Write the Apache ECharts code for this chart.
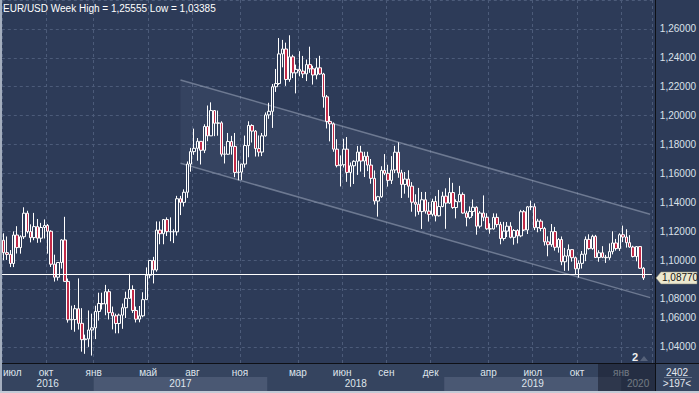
<!DOCTYPE html>
<html><head><meta charset="utf-8">
<script src="https://cdn.jsdelivr.net/npm/echarts/dist/echarts.min.js"></script>
<style>html,body{margin:0;padding:0;background:#2d3b58;overflow:hidden}#c{width:699px;height:393px}</style>
</head><body><div id="c"></div>
<script>
// ---------- data (weekly EUR/USD, first week 2016-07-04) ----------
const firstWeek = '2016-07-04';
const open = [1.1138,1.1052,1.1040,1.0977,1.1174,1.1087,1.1162,1.1325,1.1198,1.1156,
1.1232,1.1152,1.1226,1.1240,1.1200,1.0972,1.0882,1.0984,1.1140,1.0853,
1.0587,1.0589,1.0664,1.0563,1.0450,1.0455,1.0517,1.0532,1.0645,1.0700,
1.0697,1.0782,1.0637,1.0615,1.0562,1.0620,1.0671,1.0736,1.0797,1.0652,
1.0592,1.0615,1.0727,1.0896,1.0998,1.0932,1.1208,1.1183,1.1281,1.1197,
1.1197,1.1196,1.1425,1.1400,1.1470,1.1665,1.1751,1.1774,1.1822,1.1760,
1.1925,1.1860,1.2035,1.1947,1.1950,1.1733,1.1733,1.1821,1.1787,1.1607,
1.1609,1.1665,1.1793,1.1932,1.1893,1.1772,1.1748,1.1860,1.2005,1.2030,
1.2200,1.2222,1.2427,1.2461,1.2250,1.2407,1.2296,1.2320,1.2308,1.2289,
1.2353,1.2324,1.2281,1.2331,1.2288,1.2130,1.1960,1.1943,1.1768,1.1654,
1.1660,1.1768,1.1607,1.1653,1.1684,1.1748,1.1686,1.1719,1.1658,1.1566,
1.1409,1.1439,1.1621,1.1601,1.1552,1.1624,1.1747,1.1604,1.1524,1.1561,
1.1512,1.1401,1.1387,1.1336,1.1418,1.1339,1.1317,1.1406,1.1307,1.1371,
1.1443,1.1395,1.1468,1.1364,1.1405,1.1455,1.1326,1.1296,1.1337,1.1366,
1.1235,1.1326,1.1297,1.1217,1.1216,1.1296,1.1246,1.1150,1.1201,1.1235,
1.1158,1.1205,1.1168,1.1335,1.1209,1.1369,1.1370,1.1225,1.1270,1.1219,
1.1127,1.1107,1.1198,1.1089,1.1143,1.0989,1.1029,1.1073,1.1017,1.0940,
1.0978,1.1041,1.1144,1.1080,1.1165,1.1018,1.1051,1.1020,1.1017,1.1059,
1.1119,1.1080,1.1176,1.1160,1.1121,1.1091,1.1025,1.1094,1.0944];
const high = [1.1186,1.1164,1.1070,1.1199,1.1235,1.1172,1.1366,1.1342,1.1248,1.1327,
1.1285,1.1258,1.1282,1.1250,1.1207,1.1038,1.0985,1.1145,1.1300,1.0873,
1.0685,1.0690,1.0874,1.0668,1.0485,1.0652,1.0630,1.0685,1.0775,1.0775,
1.0829,1.0800,1.0679,1.0630,1.0630,1.0700,1.0782,1.0906,1.0826,1.0679,
1.0683,1.0778,1.0950,1.1000,1.1023,1.1268,1.1268,1.1285,1.1296,1.1296,
1.1213,1.1445,1.1445,1.1490,1.1683,1.1777,1.1910,1.1845,1.1822,1.1940,
1.2070,1.2092,1.2035,1.2035,1.1961,1.1788,1.1880,1.1860,1.1880,1.1689,
1.1666,1.1862,1.1961,1.1940,1.1900,1.1863,1.1880,1.2022,1.2089,1.2219,
1.2323,1.2537,1.2524,1.2505,1.2556,1.2421,1.2353,1.2446,1.2413,1.2388,
1.2477,1.2345,1.2397,1.2414,1.2296,1.2143,1.1997,1.1953,1.1837,1.1725,
1.1840,1.1852,1.1676,1.1691,1.1790,1.1791,1.1750,1.1750,1.1700,1.1621,
1.1445,1.1650,1.1734,1.1660,1.1720,1.1791,1.1815,1.1625,1.1610,1.1622,
1.1540,1.1456,1.1500,1.1472,1.1472,1.1402,1.1425,1.1443,1.1486,1.1473,
1.1497,1.1570,1.1535,1.1421,1.1514,1.1469,1.1342,1.1372,1.1420,1.1373,
1.1339,1.1448,1.1325,1.1255,1.1324,1.1323,1.1265,1.1265,1.1264,1.1263,
1.1215,1.1214,1.1348,1.1347,1.1375,1.1412,1.1393,1.1286,1.1283,1.1230,
1.1165,1.1250,1.1230,1.1153,1.1164,1.1085,1.1109,1.1075,1.1025,1.0998,
1.1063,1.1164,1.1179,1.1176,1.1175,1.1069,1.1097,1.1037,1.1116,1.1200,
1.1147,1.1186,1.1239,1.1214,1.1173,1.1100,1.1096,1.1095,1.0952];
const low = [1.1000,1.1002,1.0952,1.0952,1.1046,1.1045,1.1147,1.1185,1.1123,1.1138,
1.1120,1.1123,1.1150,1.1045,1.0953,1.0852,1.0859,1.0942,1.0850,1.0568,
1.0518,1.0505,1.0520,1.0367,1.0352,1.0400,1.0340,1.0454,1.0582,1.0659,
1.0619,1.0590,1.0521,1.0494,1.0494,1.0525,1.0600,1.0733,1.0635,1.0569,
1.0570,1.0605,1.0727,1.0875,1.0839,1.0920,1.1110,1.1110,1.1167,1.1131,
1.1118,1.1170,1.1312,1.1371,1.1431,1.1612,1.1729,1.1688,1.1662,1.1741,
1.1823,1.1859,1.1858,1.1861,1.1717,1.1669,1.1730,1.1730,1.1574,1.1553,
1.1555,1.1640,1.1712,1.1814,1.1717,1.1717,1.1720,1.1855,1.1978,1.1915,
1.2164,1.2213,1.2334,1.2206,1.2234,1.2260,1.2154,1.2272,1.2260,1.2239,
1.2296,1.2215,1.2251,1.2283,1.2055,1.1911,1.1822,1.1750,1.1642,1.1510,
1.1641,1.1542,1.1508,1.1527,1.1590,1.1613,1.1575,1.1616,1.1529,1.1385,
1.1301,1.1431,1.1588,1.1509,1.1527,1.1603,1.1570,1.1430,1.1460,1.1432,
1.1335,1.1302,1.1314,1.1216,1.1322,1.1267,1.1303,1.1268,1.1302,1.1366,
1.1217,1.1390,1.1355,1.1289,1.1402,1.1322,1.1234,1.1284,1.1306,1.1176,
1.1220,1.1270,1.1210,1.1183,1.1212,1.1227,1.1110,1.1135,1.1160,1.1151,
1.1107,1.1116,1.1159,1.1201,1.1181,1.1346,1.1208,1.1193,1.1200,1.1101,
1.1027,1.1092,1.1066,1.1052,1.0965,1.0926,1.0927,1.0990,1.0904,1.0879,
1.0942,1.0993,1.1073,1.1072,1.1015,1.0989,1.1014,1.0981,1.1002,1.1040,
1.1066,1.1064,1.1125,1.1087,1.1086,1.1019,1.0992,1.0940,1.0863];
const close = [1.1052,1.1040,1.0977,1.1174,1.1087,1.1162,1.1325,1.1198,1.1156,1.1232,
1.1152,1.1226,1.1240,1.1200,1.0972,1.0882,1.0984,1.1140,1.0853,1.0587,
1.0589,1.0664,1.0563,1.0450,1.0455,1.0517,1.0532,1.0645,1.0700,1.0697,
1.0782,1.0637,1.0615,1.0562,1.0620,1.0671,1.0736,1.0797,1.0652,1.0592,
1.0615,1.0727,1.0896,1.0998,1.0932,1.1208,1.1183,1.1281,1.1197,1.1197,
1.1196,1.1425,1.1400,1.1470,1.1665,1.1751,1.1774,1.1822,1.1760,1.1925,
1.1860,1.2035,1.1947,1.1950,1.1733,1.1733,1.1821,1.1787,1.1607,1.1609,
1.1665,1.1793,1.1932,1.1893,1.1772,1.1748,1.1860,1.2005,1.2030,1.2200,
1.2222,1.2427,1.2461,1.2250,1.2407,1.2296,1.2320,1.2308,1.2289,1.2353,
1.2324,1.2281,1.2331,1.2288,1.2130,1.1960,1.1943,1.1768,1.1654,1.1660,
1.1768,1.1607,1.1653,1.1684,1.1748,1.1686,1.1719,1.1658,1.1566,1.1409,
1.1439,1.1621,1.1601,1.1552,1.1624,1.1747,1.1604,1.1524,1.1561,1.1512,
1.1401,1.1387,1.1336,1.1418,1.1339,1.1317,1.1406,1.1307,1.1371,1.1443,
1.1395,1.1468,1.1364,1.1405,1.1455,1.1326,1.1296,1.1337,1.1366,1.1235,
1.1326,1.1297,1.1217,1.1216,1.1296,1.1246,1.1150,1.1201,1.1235,1.1158,
1.1205,1.1168,1.1335,1.1209,1.1369,1.1370,1.1225,1.1270,1.1219,1.1127,
1.1107,1.1198,1.1089,1.1143,1.0989,1.1029,1.1073,1.1017,1.0940,1.0978,
1.1041,1.1144,1.1080,1.1165,1.1018,1.1051,1.1020,1.1017,1.1059,1.1119,
1.1080,1.1176,1.1160,1.1121,1.1091,1.1025,1.1094,1.0944,1.0877];
const emptySlots = 2;
const lastPrice = 1.0877;
const titleText = 'EUR/USD Week High = 1,25555 Low = 1,03385';
const monthTickDates = ['2016-07-04','2016-10-03','2017-01-09','2017-05-01','2017-07-31','2017-11-06','2018-03-05','2018-06-04','2018-09-03','2018-12-03','2019-04-01','2019-07-01','2019-09-30','2019-12-30'];
const monthNames = ['июл','окт','янв','май','авг','ноя','мар','июн','сен','дек','апр','июл','окт','янв'];
const yearStartDates = ['2017-01-09','2018-01-01','2018-12-31','2019-12-30'];
const yearNames = ['2016','2017','2018','2019','2020'];
const channelX = [52, 190];
const channelUpper = [1.2247, 1.1318];
const channelLower = [1.1670, 1.0741];
const footerTop = '2402', footerBottom = '>197<', markerText = '2';

// ---------- build ----------
function fmtDate(d){return d.toISOString().slice(0,10);}
const weeks = [];
{ const d0 = new Date(firstWeek+'T00:00:00Z');
  for (let i=0;i<close.length+emptySlots;i++){ weeks.push(fmtDate(new Date(d0.getTime()+i*7*864e5))); } }
const ohlc = close.map((c,i)=>[open[i], c, low[i], high[i]]);
const tickIdx = new Set(monthTickDates.map(d=>weeks.indexOf(d)));
const FONT = 'Liberation Sans, Arial, sans-serif';
const BG = '#2d3b58';
const fmt = v => v.toFixed(5).replace('.', ',');

const chart = echarts.init(document.getElementById('c'), null, {renderer:'svg', width:699, height:393});
chart.setOption({
  backgroundColor:BG,
  animation:false,
  grid:{left:1.8, top:-11.8, width:653.2, height:387.6, containLabel:false},
  xAxis:{type:'category', data:weeks, boundaryGap:true,
    axisLine:{show:false}, axisTick:{show:false}, axisLabel:{show:false},
    splitLine:{show:true, interval:(i)=>tickIdx.has(i), lineStyle:{color:'#4c5b79', type:[3,3], width:1}}},
  yAxis:{type:'value', position:'right', min:1.02, max:1.28, interval:0.02, scale:true,
    axisLine:{show:false}, axisTick:{show:false},
    splitLine:{show:true, lineStyle:{color:'#4c5b79', type:[3,3], width:1}},
    axisLabel:{show:true, margin:8, color:'#dbe1ea', fontSize:10, fontFamily:FONT,
      formatter:(v)=>{ if (v<1.03||v>1.27) return ''; if (Math.abs(v-1.08)<1e-6) return '{m|'+fmt(v)+'}'; return fmt(v); },
      rich:{m:{padding:[18,0,0,0], color:'#dbe1ea', fontSize:10, fontFamily:FONT}}}},
  series:[
    {type:'custom', z:1, silent:true, data:[[channelX[0], channelX[1], channelUpper[0], channelUpper[1], channelLower[0], channelLower[1]]],
      renderItem:(params, api)=>{
        const a = api.coord([api.value(0), api.value(2)]);
        const b = api.coord([api.value(1), api.value(3)]);
        const c = api.coord([api.value(1), api.value(5)]);
        const d = api.coord([api.value(0), api.value(4)]);
        return {type:'group', children:[
          {type:'polygon', shape:{points:[a,b,c,d]}, style:{fill:'rgba(150,165,195,0.08)'}},
          {type:'line', shape:{x1:a[0],y1:a[1],x2:b[0],y2:b[1]}, style:{stroke:'rgba(170,180,200,0.5)', lineWidth:1.5}},
          {type:'line', shape:{x1:d[0],y1:d[1],x2:c[0],y2:c[1]}, style:{stroke:'rgba(170,180,200,0.5)', lineWidth:1.5}}
        ]};
      }},
    {type:'candlestick', z:3, data:ohlc, barWidth:3,
      itemStyle:{color:BG, color0:'#c22a48', borderColor:'#ffffff', borderColor0:'#ffffff', borderWidth:1},
      markLine:{silent:true, symbol:'none', label:{show:false}, lineStyle:{color:'#ffffff', type:'solid', width:1.2},
        data:[{yAxis:lastPrice}]}}
  ]
});

// ---------- decorations positioned through the axes ----------
const cx = i => chart.convertToPixel({xAxisIndex:0}, i);
const slotW = cx(1)-cx(0);
const edge = d => cx(weeks.indexOf(d)) - slotW/2;
const plotL = cx(0)-slotW/2, plotR = 655;
const yLast = chart.convertToPixel({yAxisIndex:0}, lastPrice);
const g = [];
g.push({type:'rect', shape:{x:0,y:363,width:699,height:28}, style:{fill:'#35445f'}, z:50});
const bounds = [plotL].concat(yearStartDates.map(edge)).concat([plotR]);
for (let k=0;k<yearNames.length;k++){
  if (k%2===1) g.push({type:'rect', shape:{x:bounds[k],y:377,width:bounds[k+1]-bounds[k],height:14}, style:{fill:'#4a5873'}, z:51});
  g.push({type:'text', x:(bounds[k]+bounds[k+1])/2, y:383.5, style:{text:yearNames[k], fill:'#dfe4ec', font:'10px '+FONT, align:'center', verticalAlign:'middle'}, z:52});
}
monthTickDates.forEach((d,k)=>{
  const x = edge(d);
  const first = x < 10;
  g.push({type:'text', x: first ? 3 : x, y:372, style:{text:monthNames[k], fill:'#dfe4ec', font:'10px '+FONT, align: first ? 'left' : 'center', verticalAlign:'middle'}, z:52});
});
g.push({type:'rect', shape:{x:598,y:363,width:57,height:28}, style:{fill:'rgba(24,30,44,0.55)'}, z:53});
g.push({type:'line', shape:{x1:0,y1:363.5,x2:699,y2:363.5}, style:{stroke:'#0e1016', lineWidth:1}, z:54});
g.push({type:'line', shape:{x1:655.5,y1:0,x2:655.5,y2:391}, style:{stroke:'#0e1016', lineWidth:1}, z:54});
g.push({type:'line', shape:{x1:664,y1:377.5,x2:692,y2:377.5}, style:{stroke:'#66748c', lineWidth:1}, z:54});
g.push({type:'text', x:677, y:372, style:{text:footerTop, fill:'#e4e8ef', font:'10px '+FONT, align:'center', verticalAlign:'middle'}, z:55});
g.push({type:'text', x:677, y:383.5, style:{text:footerBottom, fill:'#e4e8ef', font:'10px '+FONT, align:'center', verticalAlign:'middle'}, z:55});
g.push({type:'rect', shape:{x:0,y:0,width:2,height:393}, style:{fill:'#a4aebe'}, z:100});
g.push({type:'rect', shape:{x:0,y:391,width:699,height:2}, style:{fill:'#c3cad6'}, z:100});
g.push({type:'text', x:3, y:8, style:{text:titleText, fill:'#ffffff', font:'10px '+FONT, verticalAlign:'middle'}, z:60});
g.push({type:'text', x:635, y:357, style:{text:markerText, fill:'#f0f0f0', font:'bold 11px '+FONT, align:'center', verticalAlign:'middle'}, z:60});
g.push({type:'polygon', shape:{points:[[640,361],[644,356],[648,361]]}, style:{fill:'#56627a'}, z:60});
g.push({type:'polygon', shape:{points:[[656,yLast],[661,yLast-6],[697,yLast-6],[697,yLast+6],[661,yLast+6]]}, style:{fill:'#ece8cf', stroke:'#8d8a78', lineWidth:0.5}, z:60});
g.push({type:'text', x:662, y:yLast, style:{text:fmt(lastPrice), fill:'#141414', font:'10px '+FONT, verticalAlign:'middle'}, z:61});
chart.setOption({graphic:{elements:g}});
</script></body></html>
